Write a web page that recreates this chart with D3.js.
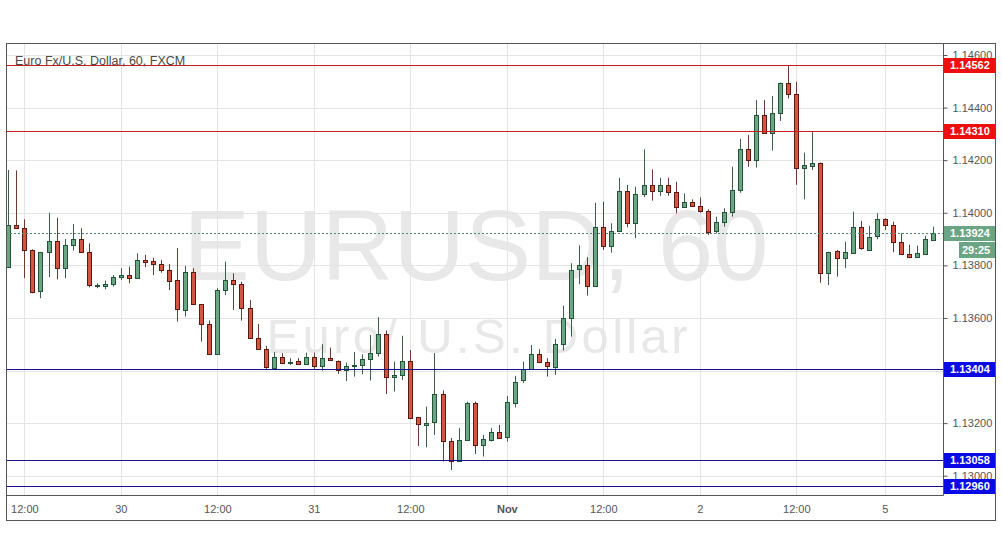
<!DOCTYPE html>
<html>
<head>
<meta charset="utf-8">
<script src="https://cdn.jsdelivr.net/npm/d3@7"></script>
<style>
body { margin: 0; background: #fff; }
svg { display: block; font-family: "Liberation Sans", Arial, sans-serif; }
</style>
</head>
<body>
<svg width="1002" height="557"></svg>
<script>
// hourly EUR/USD candles, Oct 29 10:00 -> Nov 5 06:00
var open = [1.13794,1.13954,1.13942,1.13859,1.13703,1.13850,1.13893,1.13789,1.13876,1.13899,
  1.13850,1.13723,1.13723,1.13728,1.13755,1.13763,1.13751,1.13822,1.13816,1.13804,
  1.13783,1.13744,1.13633,1.13776,1.13652,1.13577,1.13462,1.13706,1.13743,1.13728,
  1.13637,1.13523,1.13481,1.13413,1.13453,1.13432,1.13437,1.13424,1.13451,1.13418,
  1.13447,1.13438,1.13402,1.13419,1.13419,1.13443,1.13466,1.13538,1.13375,1.13382,
  1.13437,1.13222,1.13196,1.13203,1.13310,1.13132,1.13057,1.13136,1.13276,1.13117,
  1.13139,1.13168,1.13146,1.13279,1.13364,1.13405,1.13462,1.13432,1.13415,1.13501,
  1.13601,1.13783,1.13800,1.13719,1.13945,1.13874,1.13930,1.14083,1.13960,1.14072,
  1.14106,1.14083,1.14106,1.14078,1.14021,1.14040,1.14026,1.14008,1.13928,1.13964,
  1.14002,1.14087,1.14243,1.14201,1.14372,1.14302,1.14378,1.14492,1.14451,1.14169,
  1.14181,1.14191,1.13774,1.13855,1.13827,1.13850,1.13947,1.13859,1.13912,1.13975,
  1.13954,1.13888,1.13842,1.13831,1.13843,1.13899];
var high = [1.14163,1.14161,1.13975,1.13861,1.13850,1.14000,1.13981,1.13900,1.13957,1.13941,
  1.13884,1.13732,1.13742,1.13763,1.13789,1.13795,1.13846,1.13840,1.13829,1.13821,
  1.13805,1.13866,1.13798,1.13789,1.13652,1.13590,1.13713,1.13814,1.13770,1.13738,
  1.13668,1.13577,1.13494,1.13470,1.13466,1.13447,1.13447,1.13468,1.13468,1.13500,
  1.13487,1.13438,1.13430,1.13470,1.13462,1.13535,1.13603,1.13552,1.13434,1.13532,
  1.13478,1.13222,1.13263,1.13466,1.13324,1.13143,1.13181,1.13282,1.13282,1.13155,
  1.13181,1.13193,1.13303,1.13380,1.13434,1.13497,1.13481,1.13447,1.13520,1.13647,
  1.13808,1.13876,1.13831,1.14038,1.14042,1.13960,1.14133,1.14106,1.14099,1.14241,
  1.14165,1.14133,1.14133,1.14118,1.14074,1.14051,1.14059,1.14013,1.13985,1.14017,
  1.14175,1.14281,1.14296,1.14429,1.14429,1.14444,1.14495,1.14558,1.14498,1.14229,
  1.14311,1.14191,1.13852,1.13859,1.13890,1.14004,1.13969,1.13950,1.13998,1.13979,
  1.13966,1.13922,1.13878,1.13875,1.13912,1.13947];
var low = [1.13790,1.13938,1.13751,1.13694,1.13675,1.13755,1.13747,1.13751,1.13856,1.13850,
  1.13717,1.13713,1.13709,1.13719,1.13744,1.13732,1.13751,1.13793,1.13763,1.13772,
  1.13706,1.13586,1.13605,1.13653,1.13510,1.13459,1.13459,1.13687,1.13630,1.13590,
  1.13523,1.13481,1.13406,1.13413,1.13428,1.13421,1.13421,1.13424,1.13402,1.13400,
  1.13438,1.13387,1.13360,1.13377,1.13386,1.13362,1.13453,1.13311,1.13320,1.13364,
  1.13215,1.13113,1.13108,1.13155,1.13054,1.13022,1.13054,1.13136,1.13083,1.13073,
  1.13130,1.13146,1.13130,1.13260,1.13353,1.13402,1.13428,1.13377,1.13383,1.13476,
  1.13529,1.13728,1.13685,1.13719,1.13859,1.13848,1.13930,1.13945,1.13903,1.14059,
  1.14046,1.14064,1.14065,1.13998,1.14021,1.14023,1.14000,1.13916,1.13922,1.13947,
  1.13985,1.14076,1.14175,1.14172,1.14302,1.14236,1.14349,1.14435,1.14106,1.14051,
  1.14163,1.13734,1.13725,1.13757,1.13789,1.13850,1.13859,1.13859,1.13899,1.13935,
  1.13850,1.13840,1.13827,1.13831,1.13840,1.13894];
var close = [1.13954,1.13942,1.13859,1.13700,1.13850,1.13893,1.13789,1.13878,1.13899,1.13850,
  1.13723,1.13725,1.13729,1.13756,1.13763,1.13751,1.13821,1.13816,1.13803,1.13783,
  1.13742,1.13633,1.13776,1.13653,1.13577,1.13462,1.13706,1.13743,1.13728,1.13637,
  1.13523,1.13481,1.13413,1.13453,1.13432,1.13434,1.13424,1.13451,1.13418,1.13447,
  1.13438,1.13405,1.13419,1.13421,1.13443,1.13466,1.13538,1.13375,1.13382,1.13437,
  1.13221,1.13196,1.13202,1.13310,1.13132,1.13057,1.13136,1.13276,1.13117,1.13139,
  1.13168,1.13146,1.13279,1.13358,1.13405,1.13462,1.13430,1.13415,1.13501,1.13601,
  1.13783,1.13800,1.13719,1.13945,1.13871,1.13930,1.14083,1.13960,1.14072,1.14106,
  1.14083,1.14106,1.14078,1.14021,1.14040,1.14026,1.14008,1.13928,1.13964,1.14002,
  1.14087,1.14243,1.14201,1.14372,1.14302,1.14378,1.14492,1.14451,1.14169,1.14181,
  1.14191,1.13774,1.13852,1.13827,1.13850,1.13947,1.13867,1.13909,1.13975,1.13954,
  1.13888,1.13842,1.13831,1.13846,1.13899,1.13924];

var tickIdx = [2, 14, 26, 38, 50, 62, 74, 86, 98, 109];
var tickLabels = ["12:00", "30", "12:00", "31", "12:00", "Nov", "12:00", "2", "12:00", "5"];
var priceTicks = [1.146, 1.144, 1.142, 1.140, 1.138, 1.136, 1.134, 1.132, 1.130];
var redLevels = [1.14562, 1.14310];
var blueLevels = [1.13404, 1.13058, 1.12960];
var lastPrice = 1.13924, countdown = "29:25";
var title = "Euro Fx/U.S. Dollar, 60, FXCM";
var wmSymbol = "EURUSD, 60", wmName = "Euro/ U.S. Dollar";

var pL = 6, pR = 943, pT = 43, pB = 495, outR = 995, outB = 520;
var upFill = '#6ba583', upLine = '#225437', downFill = '#d75442', downLine = '#5b1a13';

var svg = d3.select('svg');
svg.append('rect').attr('width', 1002).attr('height', 557).attr('fill', '#fff');

var x = d3.scaleLinear().domain([0, 115]).range([8.3, 933]);
var y = d3.scaleLinear().domain([1.146, 1.130]).range([55, 475.7]);
var fmt = d3.format('.5f');
function px(v) { return Math.round(v) + 0.5; }

svg.append('clipPath').attr('id', 'plot')
  .append('rect').attr('x', pL).attr('y', pT).attr('width', pR - pL).attr('height', pB - pT);

var g = svg.append('g').attr('clip-path', 'url(#plot)');

// watermark
g.append('text').attr('x', 476).attr('y', 280).attr('text-anchor', 'middle')
  .attr('font-size', 100).attr('fill', '#e8e8e8')
  .attr('textLength', 585).attr('lengthAdjust', 'spacingAndGlyphs')
  .text(wmSymbol);
g.append('text').attr('x', 477).attr('y', 353).attr('text-anchor', 'middle')
  .attr('font-size', 49).attr('fill', '#e8e8e8')
  .attr('textLength', 421).attr('lengthAdjust', 'spacing')
  .text(wmName);

// grid
g.selectAll('.hgrid').data(priceTicks).enter().append('line')
  .attr('x1', pL).attr('x2', pR)
  .attr('y1', function(d) { return px(y(d)); }).attr('y2', function(d) { return px(y(d)); })
  .attr('stroke', '#e4e4e4');
g.selectAll('.vgrid').data(tickIdx).enter().append('line')
  .attr('x1', function(d) { return px(x(d)); }).attr('x2', function(d) { return px(x(d)); })
  .attr('y1', pT).attr('y2', pB)
  .attr('stroke', '#e4e4e4');

// candles
var candles = d3.range(open.length).map(function(i) {
  return { i: i, o: open[i], h: high[i], l: low[i], c: close[i], up: close[i] >= open[i] };
});

var cg = g.selectAll('.candle').data(candles).enter().append('g').attr('class', 'candle');
cg.append('line')
  .attr('x1', function(d) { return px(x(d.i)); }).attr('x2', function(d) { return px(x(d.i)); })
  .attr('y1', function(d) { return y(d.h); }).attr('y2', function(d) { return y(d.l); })
  .attr('stroke', function(d) { return d.up ? '#3d5e4b' : '#6b3a33'; });
cg.append('rect')
  .attr('x', function(d) { return px(x(d.i)) - 2; })
  .attr('width', 4)
  .attr('y', function(d) { return Math.round(y(Math.max(d.o, d.c))) + 0.5; })
  .attr('height', function(d) { return Math.max(1, Math.round(Math.abs(y(d.o) - y(d.c)))); })
  .attr('fill', function(d) { return d.up ? upFill : downFill; })
  .attr('stroke', function(d) { return d.up ? upLine : downLine; });

// horizontal levels, drawn as 1px filled strips
var levels = g.append('g');
levels.selectAll('rect.red').data(redLevels).enter().append('rect').attr('class', 'red')
  .attr('x', pL).attr('width', pR - pL)
  .attr('y', function(d) { return Math.round(y(d)); }).attr('height', 1)
  .style('fill', '#c81e1e');
levels.selectAll('rect.blue').data(blueLevels).enter().append('rect').attr('class', 'blue')
  .attr('x', pL).attr('width', pR - pL)
  .attr('y', function(d) { return Math.round(y(d)); }).attr('height', 1)
  .style('fill', '#12128e');
levels.append('line')
  .attr('x1', pL).attr('x2', pR).attr('y1', px(y(lastPrice))).attr('y2', px(y(lastPrice)))
  .attr('stroke', '#4f8a6c').attr('stroke-dasharray', '2,2');

// title
svg.append('text').attr('x', 15).attr('y', 65).attr('font-size', 12.5).attr('fill', '#4a4a4a')
  .text(title);

// right price axis (labels hidden where a level tag covers them)
var allLevels = redLevels.concat(blueLevels);
var yAxis = d3.axisRight(y).tickValues(priceTicks).tickFormat(fmt).tickSize(4).tickPadding(5);
var ya = svg.append('g').attr('transform', 'translate(' + (pR + 0.5) + ',0)').call(yAxis);
ya.select('.domain').remove();
ya.selectAll('line').attr('stroke', '#555');
ya.selectAll('text').attr('font-size', 11).attr('fill', '#555')
  .attr('font-family', '"Liberation Sans", Arial, sans-serif')
  .style('display', function(d) {
    return allLevels.some(function(v) { return Math.abs(v - d) < 0.0001; }) ? 'none' : null;
  });

// bottom time axis
var xAxis = d3.axisBottom(x).tickValues(tickIdx)
  .tickFormat(function(d, i) { return tickLabels[i]; }).tickSize(0).tickPadding(10);
var xa = svg.append('g').attr('transform', 'translate(0,' + pB + ')').call(xAxis);
xa.select('.domain').remove();
xa.selectAll('text').attr('font-size', 11).attr('fill', '#555')
  .attr('font-family', '"Liberation Sans", Arial, sans-serif')
  .attr('font-weight', function(d, i) { return tickLabels[i] === 'Nov' ? 'bold' : 'normal'; });

// price labels on the axis
function priceTag(v, fill, text, x0) {
  var cy = Math.round(y(v));
  svg.append('rect').attr('x', x0).attr('y', cy - 7).attr('width', 996 - x0).attr('height', 15)
    .attr('fill', fill);
  svg.append('text').attr('x', 950).attr('y', cy + 4).attr('font-size', 11).attr('font-weight', 'bold')
    .attr('fill', '#fff').text(text);
}
redLevels.forEach(function(v) { priceTag(v, '#f00d0d', fmt(v), pR + 1); });
blueLevels.forEach(function(v) { priceTag(v, '#0a0ae6', fmt(v), pR + 1); });
priceTag(lastPrice, '#6ba583', fmt(lastPrice), pR + 1);
var cdY = Math.round(y(lastPrice)) + 9;
svg.append('rect').attr('x', 959).attr('y', cdY).attr('width', 37).attr('height', 16).attr('fill', '#6ba583');
svg.append('text').attr('x', 962).attr('y', cdY + 12).attr('font-size', 11).attr('font-weight', 'bold')
  .attr('fill', '#fff').text(countdown);

// frames
svg.append('rect').attr('x', pL + 0.5).attr('y', pT + 0.5).attr('width', outR - pL).attr('height', outB - pT)
  .attr('fill', 'none').attr('stroke', '#555');
svg.append('line').attr('x1', pR + 0.5).attr('x2', pR + 0.5).attr('y1', pT).attr('y2', pB + 0.5)
  .attr('stroke', '#555');
svg.append('line').attr('x1', pL).attr('x2', pR + 0.5).attr('y1', pB + 0.5).attr('y2', pB + 0.5)
  .attr('stroke', '#555');
</script>
</body>
</html>
